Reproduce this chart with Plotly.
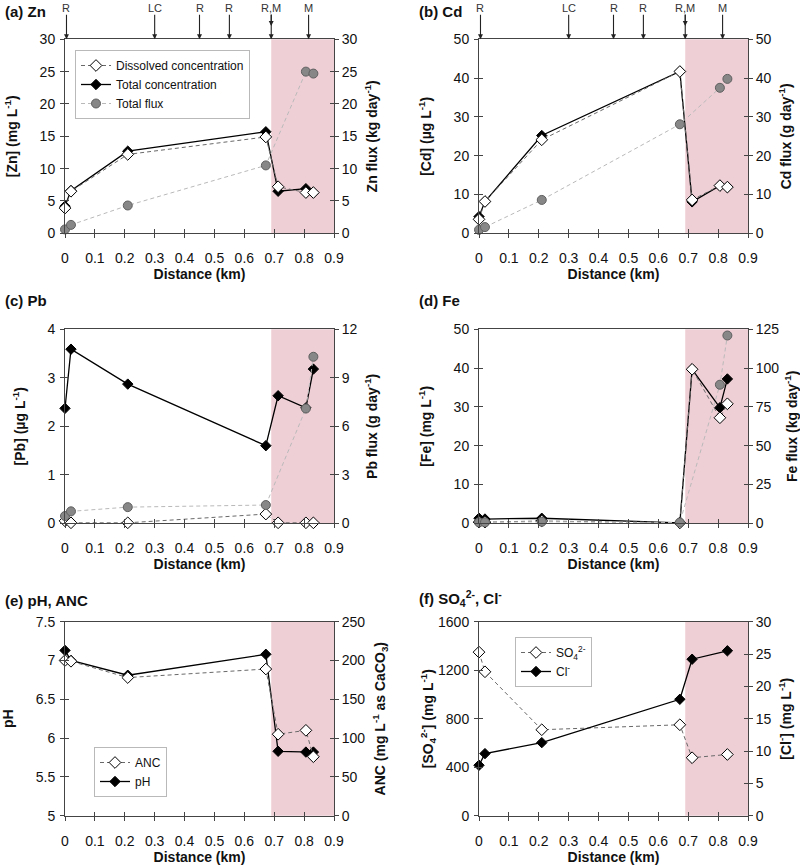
import plotly.graph_objects as go

# ---------------- data ----------------
dist = [0, 0.02, 0.21, 0.672, 0.713, 0.806, 0.831]

zn_diss = [3.9, 6.5, 12.2, 14.9, 7.2, 6.3, 6.3]
zn_tot = [4.2, 6.6, 12.7, 15.7, 6.5, 6.9, 6.3]
zn_flux = [0.6, 1.3, 4.3, 10.5, None, 25.0, 24.7]

cd_diss = [3.6, 8.2, 24.1, 41.7, 8.6, 12.3, 11.9]
cd_tot = [4.3, 8.2, 25.2, 41.7, 8.1, 12.3, 11.9]
cd_flux = [0.9, 1.6, 8.6, 28.1, None, 37.5, 39.8]

pb_diss = [0.05, 0.01, 0.01, 0.19, 0.01, 0.01, 0.01]
pb_tot = [2.37, 3.59, 2.87, 1.60, 2.63, 2.38, 3.18]
pb_flux = [0.45, 0.74, 1.0, 1.13, None, 7.1, 10.3]

fe_diss = [0.3, 0.3, 0.6, 0.1, 39.7, 27.2, 30.8]
fe_tot = [1.3, 1.1, 1.3, 0.1, 39.7, 29.8, 37.2]
fe_flux = [0.6, 0.6, 1.0, 0.5, None, 89.3, 121.0]

ph_vals = [7.13, 7.0, 6.81, 7.08, 5.83, 5.82, 5.82]
anc_vals = [200, 199, 178, 189, 105, 110, 76]

so4_vals = [1349, 1187, 709, 750, 478, None, 505]
cl_vals = [7.8, 9.6, 11.3, 18.0, 24.2, None, 25.5]

arrow_pos = [0.005, 0.30, 0.45, 0.55, 0.69, 0.815]
arrow_lbl = ["R", "LC", "R", "R", "R,M", "M"]
double_head = [False, False, False, False, True, False]

panel_titles = ["(a) Zn", "(b) Cd", "(c) Pb", "(d) Fe", "(e) pH, ANC",
                "(f) SO<sub>4</sub><sup>2-</sup>, Cl<sup>-</sup>"]
left_titles = ["[Zn] (mg L<sup>-1</sup>)", "[Cd] (µg L<sup>-1</sup>)",
               "[Pb] (µg L<sup>-1</sup>)", "[Fe] (mg L<sup>-1</sup>)", "pH",
               "[SO<sub>4</sub><sup>2-</sup>] (mg L<sup>-1</sup>)"]
right_titles = ["Zn flux (kg day<sup>-1</sup>)", "Cd flux (g day<sup>-1</sup>)",
                "Pb flux (g day<sup>-1</sup>)", "Fe flux (kg day<sup>-1</sup>)",
                "ANC (mg L<sup>-1</sup> as CaCO<sub>3</sub>)",
                "[Cl<sup>-</sup>] (mg L<sup>-1</sup>)"]
left_ranges = [[0, 30], [0, 50], [0, 4], [0, 50], [5, 7.5], [0, 1600]]
left_dtick = [5, 10, 1, 10, 0.5, 400]
right_ranges = [[0, 30], [0, 50], [0, 12], [0, 125], [0, 250], [0, 30]]
right_dtick = [5, 10, 3, 25, 50, 5]
mining_zone = [0.69, 0.9]

# ---------------- layout geometry ----------------
W, H = 800, 865

def fx(p):
    return p / W

def fy(p):
    return 1 - p / H

xdom = [[fx(65), fx(334)], [fx(479), fx(748)]]
ydom = [[fy(233.3), fy(39.3)], [fy(523.3), fy(329.3)],
        [fy(815.7), fy(621.7)]]
title_pos = [(3, 11), (417, 11), (3, 300), (417, 300), (3, 600), (417, 598)]
left_standoff = [18, 18, 18, 18, 18, 0]

FONT = "Liberation Sans, Arial, sans-serif"
AX = "#444444"
DISS_LINE = "rgb(105,105,105)"
FLUX_LINE = "rgb(185,185,185)"
PINK = "rgb(238,207,214)"
TICK_SIZE = 14
TITLE_SIZE = 14

fig = go.Figure()
layout = dict(width=W, height=H, margin=dict(l=0, r=0, t=0, b=0, pad=0),
              autosize=False, paper_bgcolor="white", plot_bgcolor="white",
              font=dict(family=FONT, size=12, color="#111"),
              showlegend=True)

def nm(prefix, k):
    return prefix if k == 1 else f"{prefix}{k}"

for i in range(6):
    col, row = i % 2, i // 2
    xm, xo = i + 1, i + 7
    yl, yr, ylo, yro = i + 1, i + 7, i + 13, i + 19
    tickfont = dict(family=FONT, size=TICK_SIZE, color="#111")
    tfont = dict(family=FONT, size=TITLE_SIZE, color="#111")
    layout[nm("xaxis", xm)] = dict(
        domain=xdom[col], range=[0, 0.9], dtick=0.1, anchor=nm("y", yl),
        automargin=False, ticklabelstandoff=8,
        showgrid=False, zeroline=False, showline=True, linecolor=AX,
        linewidth=1, mirror=True, ticks="outside", ticklen=4, tickcolor=AX,
        tickfont=tickfont,
        title=dict(text="<b>Distance (km)</b>", standoff=4, font=tfont))
    layout[nm("xaxis", xo)] = dict(
        overlaying=nm("x", xm), range=[0, 0.9], dtick=0.1, anchor=nm("y", yl),
        automargin=False,
        side="bottom", showgrid=False, zeroline=False, showline=False,
        ticks="inside", ticklen=4, tickcolor=AX, showticklabels=False)
    layout[nm("yaxis", yl)] = dict(
        domain=ydom[row], range=left_ranges[i], dtick=left_dtick[i],
        anchor=nm("x", xm), automargin=False, ticklabelstandoff=2,
        showgrid=False, zeroline=False, showline=True,
        linecolor=AX, linewidth=1, ticks="outside", ticklen=4, tickcolor=AX,
        tickfont=tickfont,
        title=dict(text="<b>" + left_titles[i] + "</b>",
                   standoff=left_standoff[i], font=tfont))
    layout[nm("yaxis", ylo)] = dict(
        overlaying=nm("y", yl), range=left_ranges[i], dtick=left_dtick[i],
        anchor=nm("x", xm), side="left", automargin=False,
        showgrid=False, zeroline=False,
        showline=False, ticks="inside", ticklen=4, tickcolor=AX,
        showticklabels=False)
    layout[nm("yaxis", yr)] = dict(
        overlaying=nm("y", yl), range=right_ranges[i], dtick=right_dtick[i],
        anchor=nm("x", xm), side="right", automargin=False,
        showgrid=False, zeroline=False,
        showline=True, linecolor=AX, linewidth=1, ticks="outside", ticklen=4,
        tickcolor=AX, tickfont=tickfont,
        title=dict(text="<b>" + right_titles[i] + "</b>", standoff=10,
                   font=tfont))
    layout[nm("yaxis", yro)] = dict(
        overlaying=nm("y", yl), range=right_ranges[i], dtick=right_dtick[i],
        anchor=nm("x", xm), side="right", automargin=False,
        showgrid=False, zeroline=False,
        showline=False, ticks="inside", ticklen=4, tickcolor=AX,
        showticklabels=False)
    # dummy traces so the overlay tick axes are drawn
    fig.add_trace(go.Scatter(x=[None], y=[None], xaxis=nm("x", xo),
                             yaxis=nm("y", ylo), showlegend=False,
                             hoverinfo="skip"))
    fig.add_trace(go.Scatter(x=[None], y=[None], xaxis=nm("x", xm),
                             yaxis=nm("y", yro), showlegend=False,
                             hoverinfo="skip"))

shapes, annots = [], []
for i in range(6):
    shapes.append(dict(type="rect", xref=nm("x", i + 1),
                       yref=nm("y", i + 1) + " domain",
                       x0=mining_zone[0], x1=mining_zone[1], y0=0, y1=1,
                       fillcolor=PINK, line=dict(width=0), layer="below"))
    px, py = title_pos[i]
    annots.append(dict(text="<b>" + panel_titles[i] + "</b>", xref="paper",
                       yref="paper", x=fx(px), y=fy(py), xanchor="left",
                       yanchor="middle", showarrow=False,
                       font=dict(family=FONT, size=15, color="#111")))

# arrows on top of panels a and b
for i in range(2):
    top = ydom[0][1]
    for xp, lb, dh in zip(arrow_pos, arrow_lbl, double_head):
        annots.append(dict(text="", xref=nm("x", i + 1), yref="paper",
                           x=xp, y=top, ax=0, ay=-26, showarrow=True,
                           arrowhead=2, arrowsize=0.9, arrowwidth=1.1,
                           arrowcolor="#222", standoff=0))
        if dh:
            annots.append(dict(text="", xref=nm("x", i + 1), yref="paper",
                               x=xp, y=fy(26), ax=0, ay=-13,
                               showarrow=True, arrowhead=2, arrowsize=0.9,
                               arrowwidth=1.1, arrowcolor="#222", standoff=0))
        annots.append(dict(text=lb, xref=nm("x", i + 1), yref="paper",
                           x=xp, y=fy(8), showarrow=False,
                           xanchor="center", yanchor="middle",
                           font=dict(family=FONT, size=11, color="#333")))

def total_trace(x, y, ax, name, show, legend="legend", rank=2):
    return go.Scatter(x=x, y=y, xaxis=ax[0], yaxis=ax[1], name=name,
                      mode="lines+markers", cliponaxis=False,
                      line=dict(color="black", width=1.3),
                      marker=dict(symbol="diamond", size=8, color="black",
                                  line=dict(color="black", width=1)),
                      showlegend=show, legend=legend, legendrank=rank)

def diss_trace(x, y, ax, name, show, legend="legend", rank=1, gaps=False):
    return go.Scatter(x=x, y=y, xaxis=ax[0], yaxis=ax[1], name=name,
                      mode="lines+markers", cliponaxis=False,
                      connectgaps=gaps,
                      line=dict(color=DISS_LINE, width=1, dash="4px,3px"),
                      marker=dict(symbol="diamond", size=9, color="white",
                                  line=dict(color="black", width=1)),
                      showlegend=show, legend=legend, legendrank=rank)

def flux_trace(x, y, ax, name, show):
    return go.Scatter(x=x, y=y, xaxis=ax[0], yaxis=ax[1], name=name,
                      mode="lines+markers", cliponaxis=False, connectgaps=True,
                      line=dict(color=FLUX_LINE, width=1, dash="4px,3px"),
                      marker=dict(symbol="circle", size=9,
                                  color="rgb(135,135,135)",
                                  line=dict(color="rgb(95,95,95)", width=1)),
                      showlegend=show, legendrank=3)

metal = [(zn_diss, zn_tot, zn_flux), (cd_diss, cd_tot, cd_flux),
         (pb_diss, pb_tot, pb_flux), (fe_diss, fe_tot, fe_flux)]
for i, (d, t, f) in enumerate(metal):
    axl = (nm("x", i + 1), nm("y", i + 1))
    axr = (nm("x", i + 1), nm("y", i + 7))
    show = i == 0
    fig.add_trace(total_trace(dist, t, axl, "Total concentration", show))
    fig.add_trace(diss_trace(dist, d, axl, "Dissolved concentration", show))
    fig.add_trace(flux_trace(dist, f, axr, "Total flux", show))

# panel e
fig.add_trace(total_trace(dist, ph_vals, ("x5", "y5"), "pH", True,
                          legend="legend2", rank=2))
fig.add_trace(diss_trace(dist, anc_vals, ("x5", "y11"), "ANC", True,
                         legend="legend2", rank=1))
# panel f
fig.add_trace(diss_trace(dist, so4_vals, ("x6", "y6"),
                         "SO<sub>4</sub><sup>2-</sup>", True,
                         legend="legend3", rank=1, gaps=True))
fig.add_trace(total_trace(dist, cl_vals, ("x6", "y12"), "Cl<sup>-</sup>", True,
                          legend="legend3", rank=2))
fig.data[-1].connectgaps = True

leg_common = dict(bgcolor="white", bordercolor="rgb(185,185,185)",
                  borderwidth=1, font=dict(family=FONT, size=12, color="#111"),
                  itemwidth=30, xanchor="left", yanchor="top",
                  traceorder="normal", tracegroupgap=0)
layout["legend"] = dict(x=fx(75), y=fy(50), **leg_common)
layout["legend2"] = dict(x=fx(94), y=fy(747), **leg_common)
layout["legend3"] = dict(x=fx(515), y=fy(637), **leg_common)
layout["shapes"] = shapes
layout["annotations"] = annots
fig.update_layout(**layout)

# remove the default page margin so the 800x865 figure fills the window
fig.write_html("out.html",
               config={"displayModeBar": False},
               post_script="document.body.style.margin='0';"
                           "document.body.style.overflow='hidden';")
